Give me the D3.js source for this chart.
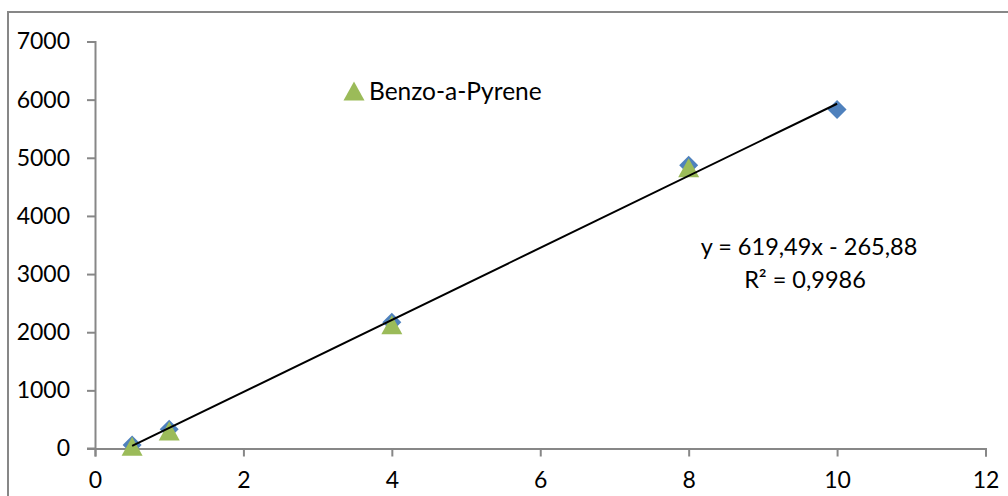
<!DOCTYPE html>
<html>
<head>
<meta charset="utf-8">
<script src="https://cdn.jsdelivr.net/npm/d3@7/dist/d3.min.js"></script>
<style>
  html, body { margin: 0; padding: 0; background: #fff; }
  svg { display: block; }
  text { font-family: Lato, "Open Sans", sans-serif; fill: #000; }
</style>
</head>
<body>
<svg id="chart" width="1008" height="496"></svg>
<script>
// Calibration data: concentration vs. detector response
const concentrations = [0.5, 1, 4, 8, 10];
const responseSeries1 = [60, 330, 2170, 4870, 5830];
const concentrationsBaP = [0.5, 1, 4, 8];
const responseBaP = [40, 300, 2130, 4830];
const legendLabel = "Benzo-a-Pyrene";
const xTicks = [0, 2, 4, 6, 8, 10, 12];
const yTicks = [0, 1000, 2000, 3000, 4000, 5000, 6000, 7000];
const fitSlope = 619.49;
const fitIntercept = -265.88;
const fitLabel = "y = 619,49x - 265,88";
const r2Label = "R\u00b2 = 0,9986";

const svg = d3.select("#chart");
const axisColor = "#878787";

// outer chart frame (runs past the right and bottom edges)
svg.append("rect")
  .attr("x", 8).attr("y", 12)
  .attr("width", 1100).attr("height", 600)
  .attr("fill", "none").attr("stroke", axisColor).attr("stroke-width", 2);

const x = d3.scaleLinear().domain([0, 12]).range([95, 985.5]);
const y = d3.scaleLinear().domain([0, 7000]).range([448.5, 41.5]);

// y axis
const yAxis = svg.append("g").attr("transform", `translate(${x(0)},0)`)
  .call(d3.axisLeft(y).tickValues(yTicks).tickFormat(d3.format("d")).tickSize(8).tickPadding(17));
// x axis
const xAxis = svg.append("g").attr("transform", `translate(0,${y(0)})`)
  .call(d3.axisBottom(x).tickValues(xTicks).tickFormat(d3.format("d")).tickSize(8).tickPadding(15));

[yAxis, xAxis].forEach(g => {
  g.select(".domain").attr("stroke", axisColor).attr("stroke-width", 2);
  g.selectAll(".tick line").attr("stroke", axisColor).attr("stroke-width", 2);
  g.selectAll(".tick text").attr("font-size", 23).attr("font-family", "Lato, sans-serif").attr("fill", "#000");
});
// x axis line continues a little left of the y axis
xAxis.append("line")
  .attr("x1", x(0) - 8).attr("x2", x(0))
  .attr("y1", 0).attr("y2", 0)
  .attr("stroke", axisColor).attr("stroke-width", 2);

// blue diamonds
const dSize = 9.5;
svg.append("g").selectAll("path")
  .data(concentrations.map((c, i) => [c, responseSeries1[i]]))
  .join("path")
  .attr("d", d => {
    const cx = x(d[0]), cy = y(d[1]);
    return `M${cx},${cy - dSize}L${cx + dSize},${cy}L${cx},${cy + dSize}L${cx - dSize},${cy}Z`;
  })
  .attr("fill", "#4F81BD");

// green triangles
const tw = 10.5, th = 19;
const triPath = (cx, cy) => `M${cx},${cy - th / 2}L${cx + tw},${cy + th / 2}L${cx - tw},${cy + th / 2}Z`;
svg.append("g").selectAll("path")
  .data(concentrationsBaP.map((c, i) => [c, responseBaP[i]]))
  .join("path")
  .attr("d", d => triPath(x(d[0]), y(d[1])))
  .attr("fill", "#9BBB59");

// linear trend line
const xMin = d3.min(concentrations), xMax = d3.max(concentrations);
svg.append("line")
  .attr("x1", x(xMin)).attr("y1", y(fitSlope * xMin + fitIntercept))
  .attr("x2", x(xMax)).attr("y2", y(fitSlope * xMax + fitIntercept))
  .attr("stroke", "#000").attr("stroke-width", 2);

// legend
svg.append("path").attr("d", triPath(354, 91)).attr("fill", "#9BBB59");
svg.append("text").attr("x", 369).attr("y", 100)
  .attr("font-size", 24.5).text(legendLabel);

// trend line equation
svg.append("text").attr("x", 809).attr("y", 255).attr("text-anchor", "middle")
  .attr("font-size", 23.5).text(fitLabel);
svg.append("text").attr("x", 805).attr("y", 288).attr("text-anchor", "middle")
  .attr("font-size", 23.5).text(r2Label);
</script>
</body>
</html>
